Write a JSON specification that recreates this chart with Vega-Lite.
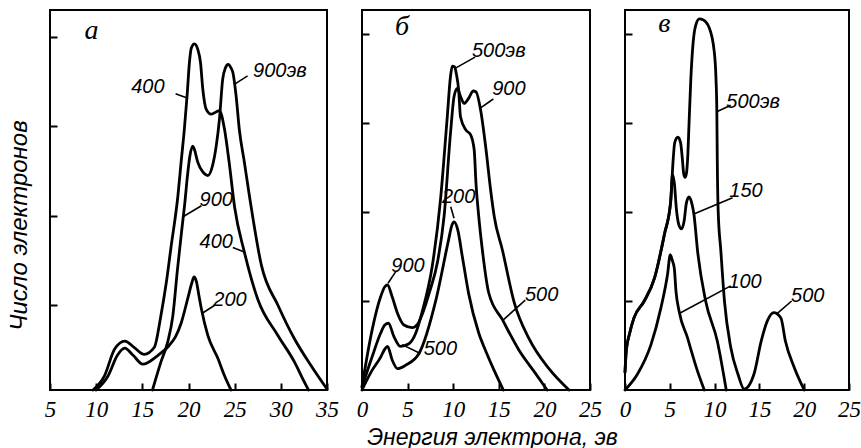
{
  "$schema": "https://vega.github.io/schema/vega-lite/v6.json",
  "background": "white",
  "padding": {"left": 6, "top": 9, "right": 4, "bottom": 4},
  "bounds": "flush",
  "spacing": 35,
  "config": {
    "view": {"stroke": "black", "strokeWidth": 2},
    "axis": {
      "domain": false, "grid": false, "ticks": true,
      "tickColor": "black", "tickWidth": 2, "tickSize": -7,
      "labelColor": "black", "labelFont": "Liberation Sans Narrow", "labelFontStyle": "italic",
      "labelFontSize": 23, "labelPadding": 15, "labelFlush": false, "labelOverlap": false,
      "titleColor": "black", "titleFont": "Liberation Sans", "titleFontStyle": "italic", "titleFontWeight": "normal"
    }
  },
  "datasets": {
    "curves": [
      {"panel":"а","energy":"400","x":9.65,"y":0},{"panel":"а","energy":"400","x":10.9,"y":0.16},{"panel":"а","energy":"400","x":12.0,"y":0.46},{"panel":"а","energy":"400","x":13.1,"y":0.55},{"panel":"а","energy":"400","x":14.1,"y":0.48},{"panel":"а","energy":"400","x":15.2,"y":0.40},{"panel":"а","energy":"400","x":16.3,"y":0.48},{"panel":"а","energy":"400","x":17.0,"y":0.83},{"panel":"а","energy":"400","x":17.6,"y":1.21},{"panel":"а","energy":"400","x":18.1,"y":1.6},{"panel":"а","energy":"400","x":18.85,"y":2.18},{"panel":"а","energy":"400","x":19.2,"y":2.56},{"panel":"а","energy":"400","x":19.55,"y":2.93},{"panel":"а","energy":"400","x":19.85,"y":3.31},{"panel":"а","energy":"400","x":20.1,"y":3.68},{"panel":"а","energy":"400","x":20.3,"y":3.84},{"panel":"а","energy":"400","x":20.64,"y":3.89},{"panel":"а","energy":"400","x":21.0,"y":3.83},{"panel":"а","energy":"400","x":21.3,"y":3.68},{"panel":"а","energy":"400","x":21.55,"y":3.38},{"panel":"а","energy":"400","x":21.9,"y":3.16},{"panel":"а","energy":"400","x":22.45,"y":3.10},{"panel":"а","energy":"400","x":23.35,"y":3.14},{"panel":"а","energy":"400","x":23.9,"y":2.93},{"panel":"а","energy":"400","x":24.4,"y":2.56},{"panel":"а","energy":"400","x":25.0,"y":2.05},{"panel":"а","energy":"400","x":26.05,"y":1.55},{"panel":"а","energy":"400","x":27.5,"y":1.02},{"panel":"а","energy":"400","x":29.7,"y":0.61},{"panel":"а","energy":"400","x":31.5,"y":0.31},{"panel":"а","energy":"400","x":32.4,"y":0.12},{"panel":"а","energy":"400","x":33.0,"y":0},
      {"panel":"а","energy":"900","x":16.1,"y":0},{"panel":"а","energy":"900","x":17.0,"y":0.31},{"panel":"а","energy":"900","x":17.75,"y":0.54},{"panel":"а","energy":"900","x":18.3,"y":0.83},{"panel":"а","energy":"900","x":18.8,"y":1.35},{"panel":"а","energy":"900","x":19.25,"y":1.78},{"panel":"а","energy":"900","x":19.6,"y":2.1},{"panel":"а","energy":"900","x":19.9,"y":2.42},{"panel":"а","energy":"900","x":20.15,"y":2.63},{"panel":"а","energy":"900","x":20.45,"y":2.74},{"panel":"а","energy":"900","x":20.65,"y":2.70},{"panel":"а","energy":"900","x":21.0,"y":2.56},{"panel":"а","energy":"900","x":21.55,"y":2.45},{"panel":"а","energy":"900","x":22.1,"y":2.41},{"panel":"а","energy":"900","x":22.6,"y":2.52},{"panel":"а","energy":"900","x":23.0,"y":2.74},{"panel":"а","energy":"900","x":23.35,"y":3.04},{"panel":"а","energy":"900","x":23.7,"y":3.49},{"panel":"а","energy":"900","x":24.0,"y":3.62},{"panel":"а","energy":"900","x":24.3,"y":3.66},{"panel":"а","energy":"900","x":24.6,"y":3.62},{"panel":"а","energy":"900","x":24.8,"y":3.57},{"panel":"а","energy":"900","x":25.15,"y":3.31},{"panel":"а","energy":"900","x":25.5,"y":2.93},{"panel":"а","energy":"900","x":26.05,"y":2.56},{"panel":"а","energy":"900","x":26.6,"y":2.18},{"panel":"а","energy":"900","x":27.9,"y":1.40},{"panel":"а","energy":"900","x":29.7,"y":0.95},{"panel":"а","energy":"900","x":31.5,"y":0.57},{"panel":"а","energy":"900","x":33.3,"y":0.27},{"panel":"а","energy":"900","x":35.0,"y":0.01},
      {"panel":"а","energy":"200","x":10.0,"y":0},{"panel":"а","energy":"200","x":11.3,"y":0.16},{"panel":"а","energy":"200","x":12.3,"y":0.39},{"panel":"а","energy":"200","x":13.1,"y":0.47},{"panel":"а","energy":"200","x":14.0,"y":0.39},{"panel":"а","energy":"200","x":15.05,"y":0.29},{"panel":"а","energy":"200","x":16.7,"y":0.39},{"panel":"а","energy":"200","x":17.9,"y":0.50},{"panel":"а","energy":"200","x":18.6,"y":0.6},{"panel":"а","energy":"200","x":19.2,"y":0.75},{"panel":"а","energy":"200","x":19.9,"y":1.02},{"panel":"а","energy":"200","x":20.35,"y":1.2},{"panel":"а","energy":"200","x":20.6,"y":1.27},{"panel":"а","energy":"200","x":20.85,"y":1.22},{"panel":"а","energy":"200","x":21.1,"y":1.08},{"panel":"а","energy":"200","x":21.4,"y":0.91},{"panel":"а","energy":"200","x":22.1,"y":0.61},{"panel":"а","energy":"200","x":23.2,"y":0.35},{"panel":"а","energy":"200","x":23.9,"y":0.16},{"panel":"а","energy":"200","x":24.6,"y":0},

      {"panel":"б","energy":"500","x":0,"y":0.03},{"panel":"б","energy":"500","x":1.1,"y":0.37},{"panel":"б","energy":"500","x":2.05,"y":0.64},{"panel":"б","energy":"500","x":2.5,"y":0.73},{"panel":"б","energy":"500","x":2.9,"y":0.75},{"panel":"б","energy":"500","x":3.5,"y":0.6},{"panel":"б","energy":"500","x":4.2,"y":0.49},{"panel":"б","energy":"500","x":5.15,"y":0.52},{"panel":"б","energy":"500","x":5.9,"y":0.64},{"panel":"б","energy":"500","x":6.6,"y":0.88},{"panel":"б","energy":"500","x":7.7,"y":1.39},{"panel":"б","energy":"500","x":8.6,"y":2.13},{"panel":"б","energy":"500","x":9.35,"y":3.07},{"panel":"б","energy":"500","x":9.7,"y":3.52},{"panel":"б","energy":"500","x":9.9,"y":3.64},{"panel":"б","energy":"500","x":10.15,"y":3.63},{"panel":"б","energy":"500","x":10.35,"y":3.55},{"panel":"б","energy":"500","x":10.6,"y":3.37},{"panel":"б","energy":"500","x":10.8,"y":3.07},{"panel":"б","energy":"500","x":11.4,"y":2.92},{"panel":"б","energy":"500","x":11.9,"y":2.87},{"panel":"б","energy":"500","x":12.3,"y":2.70},{"panel":"б","energy":"500","x":12.5,"y":2.32},{"panel":"б","energy":"500","x":12.8,"y":1.95},{"panel":"б","energy":"500","x":13.2,"y":1.57},{"panel":"б","energy":"500","x":13.9,"y":1.09},{"panel":"б","energy":"500","x":15.4,"y":0.79},{"panel":"б","energy":"500","x":17.2,"y":0.45},{"panel":"б","energy":"500","x":19.0,"y":0.19},{"panel":"б","energy":"500","x":20.3,"y":0},
      {"panel":"б","energy":"900","x":0,"y":0.04},{"panel":"б","energy":"900","x":1.1,"y":0.67},{"panel":"б","energy":"900","x":2.05,"y":1.05},{"panel":"б","energy":"900","x":2.5,"y":1.16},{"panel":"б","energy":"900","x":2.8,"y":1.18},{"panel":"б","energy":"900","x":3.3,"y":1.05},{"panel":"б","energy":"900","x":3.9,"y":0.86},{"panel":"б","energy":"900","x":4.6,"y":0.73},{"panel":"б","energy":"900","x":5.5,"y":0.70},{"panel":"б","energy":"900","x":6.1,"y":0.74},{"panel":"б","energy":"900","x":6.6,"y":0.85},{"panel":"б","energy":"900","x":7.4,"y":1.1},{"panel":"б","energy":"900","x":8.3,"y":1.45},{"panel":"б","energy":"900","x":9.0,"y":1.95},{"panel":"б","energy":"900","x":9.7,"y":2.88},{"panel":"б","energy":"900","x":10.1,"y":3.3},{"panel":"б","energy":"900","x":10.45,"y":3.39},{"panel":"б","energy":"900","x":10.8,"y":3.3},{"panel":"б","energy":"900","x":11.2,"y":3.22},{"panel":"б","energy":"900","x":11.7,"y":3.28},{"panel":"б","energy":"900","x":12.2,"y":3.36},{"panel":"б","energy":"900","x":12.5,"y":3.35},{"panel":"б","energy":"900","x":13.0,"y":3.15},{"panel":"б","energy":"900","x":13.6,"y":2.7},{"panel":"б","energy":"900","x":14.1,"y":2.25},{"panel":"б","energy":"900","x":14.5,"y":1.95},{"panel":"б","energy":"900","x":15.4,"y":1.57},{"panel":"б","energy":"900","x":16.7,"y":0.98},{"panel":"б","energy":"900","x":18.3,"y":0.58},{"panel":"б","energy":"900","x":20.5,"y":0.24},{"panel":"б","energy":"900","x":22.7,"y":0},
      {"panel":"б","energy":"200","x":0,"y":0},{"panel":"б","energy":"200","x":1.1,"y":0.22},{"panel":"б","energy":"200","x":2.05,"y":0.37},{"panel":"б","energy":"200","x":2.5,"y":0.46},{"panel":"б","energy":"200","x":2.8,"y":0.49},{"panel":"б","energy":"200","x":3.3,"y":0.34},{"panel":"б","energy":"200","x":3.9,"y":0.24},{"panel":"б","energy":"200","x":4.8,"y":0.28},{"panel":"б","energy":"200","x":6.25,"y":0.41},{"panel":"б","energy":"200","x":8.1,"y":1.01},{"panel":"б","energy":"200","x":9.5,"y":1.69},{"panel":"б","energy":"200","x":9.85,"y":1.85},{"panel":"б","energy":"200","x":10.1,"y":1.89},{"panel":"б","energy":"200","x":10.5,"y":1.8},{"panel":"б","energy":"200","x":11.0,"y":1.5},{"panel":"б","energy":"200","x":11.7,"y":1.08},{"panel":"б","energy":"200","x":12.8,"y":0.64},{"panel":"б","energy":"200","x":13.6,"y":0.43},{"panel":"б","energy":"200","x":14.4,"y":0.24},{"panel":"б","energy":"200","x":15.5,"y":0},

      {"panel":"в","energy":"500","x":0,"y":0.2},{"panel":"в","energy":"500","x":0.15,"y":0.45},{"panel":"в","energy":"500","x":0.5,"y":0.63},{"panel":"в","energy":"500","x":1.0,"y":0.81},{"panel":"в","energy":"500","x":2.15,"y":1.0},{"panel":"в","energy":"500","x":3.3,"y":1.26},{"panel":"в","energy":"500","x":4.4,"y":1.75},{"panel":"в","energy":"500","x":5.1,"y":2.12},{"panel":"в","energy":"500","x":5.35,"y":2.55},{"panel":"в","energy":"500","x":5.55,"y":2.78},{"panel":"в","energy":"500","x":5.9,"y":2.84},{"panel":"в","energy":"500","x":6.2,"y":2.78},{"panel":"в","energy":"500","x":6.4,"y":2.6},{"panel":"в","energy":"500","x":6.55,"y":2.43},{"panel":"в","energy":"500","x":6.7,"y":2.39},{"panel":"в","energy":"500","x":6.85,"y":2.43},{"panel":"в","energy":"500","x":7.0,"y":2.62},{"panel":"в","energy":"500","x":7.15,"y":3.0},{"panel":"в","energy":"500","x":7.35,"y":3.5},{"panel":"в","energy":"500","x":7.6,"y":3.9},{"panel":"в","energy":"500","x":7.9,"y":4.1},{"panel":"в","energy":"500","x":8.3,"y":4.17},{"panel":"в","energy":"500","x":8.7,"y":4.16},{"panel":"в","energy":"500","x":9.4,"y":4.07},{"panel":"в","energy":"500","x":9.95,"y":3.81},{"panel":"в","energy":"500","x":10.15,"y":3.51},{"panel":"в","energy":"500","x":10.25,"y":3.13},{"panel":"в","energy":"500","x":10.3,"y":2.57},{"panel":"в","energy":"500","x":10.4,"y":2.01},{"panel":"в","energy":"500","x":10.7,"y":1.56},{"panel":"в","energy":"500","x":11.1,"y":1.0},{"panel":"в","energy":"500","x":11.8,"y":0.48},{"panel":"в","energy":"500","x":12.6,"y":0.18},{"panel":"в","energy":"500","x":13.3,"y":0.01},{"panel":"в","energy":"500","x":14.4,"y":0.18},{"panel":"в","energy":"500","x":15.2,"y":0.55},{"panel":"в","energy":"500","x":15.9,"y":0.78},{"panel":"в","energy":"500","x":16.6,"y":0.87},{"panel":"в","energy":"500","x":17.4,"y":0.81},{"panel":"в","energy":"500","x":17.9,"y":0.55},{"panel":"в","energy":"500","x":18.9,"y":0.25},{"panel":"в","energy":"500","x":20.0,"y":0},
      {"panel":"в","energy":"150","x":0,"y":0.2},{"panel":"в","energy":"150","x":0.15,"y":0.45},{"panel":"в","energy":"150","x":0.5,"y":0.63},{"panel":"в","energy":"150","x":1.0,"y":0.81},{"panel":"в","energy":"150","x":2.15,"y":1.0},{"panel":"в","energy":"150","x":3.3,"y":1.26},{"panel":"в","energy":"150","x":4.4,"y":1.75},{"panel":"в","energy":"150","x":5.1,"y":2.12},{"panel":"в","energy":"150","x":5.3,"y":2.42},{"panel":"в","energy":"150","x":5.5,"y":2.33},{"panel":"в","energy":"150","x":5.75,"y":2.02},{"panel":"в","energy":"150","x":6.0,"y":1.86},{"panel":"в","energy":"150","x":6.3,"y":1.81},{"panel":"в","energy":"150","x":6.6,"y":1.9},{"panel":"в","energy":"150","x":6.85,"y":2.1},{"panel":"в","energy":"150","x":7.15,"y":2.17},{"panel":"в","energy":"150","x":7.45,"y":2.1},{"panel":"в","energy":"150","x":7.7,"y":1.97},{"panel":"в","energy":"150","x":8.1,"y":1.56},{"panel":"в","energy":"150","x":9.0,"y":1.0},{"panel":"в","energy":"150","x":10.3,"y":0.55},{"panel":"в","energy":"150","x":11.3,"y":0},
      {"panel":"в","energy":"100","x":0,"y":0},{"panel":"в","energy":"100","x":1.4,"y":0.18},{"panel":"в","energy":"100","x":2.9,"y":0.51},{"panel":"в","energy":"100","x":4.0,"y":0.92},{"panel":"в","energy":"100","x":4.75,"y":1.3},{"panel":"в","energy":"100","x":5.05,"y":1.52},{"panel":"в","energy":"100","x":5.3,"y":1.45},{"panel":"в","energy":"100","x":5.5,"y":1.37},{"panel":"в","energy":"100","x":5.7,"y":1.1},{"panel":"в","energy":"100","x":6.05,"y":0.88},{"panel":"в","energy":"100","x":7.0,"y":0.58},{"panel":"в","energy":"100","x":7.4,"y":0.44},{"panel":"в","energy":"100","x":8.0,"y":0.24},{"panel":"в","energy":"100","x":8.85,"y":0}
    ],
    "leaders": [
      {"panel":"а","x":18.6,"y":3.33,"x2":19.85,"y2":3.28},
      {"panel":"а","x":26.4,"y":3.53,"x2":25.05,"y2":3.44},
      {"panel":"а","x":21.4,"y":2.07,"x2":19.45,"y2":1.95},
      {"panel":"а","x":24.8,"y":1.60,"x2":26.05,"y2":1.55},
      {"panel":"а","x":22.8,"y":0.95,"x2":21.45,"y2":0.86},
      {"panel":"б","x":12.4,"y":3.74,"x2":10.3,"y2":3.62},
      {"panel":"б","x":14.4,"y":3.27,"x2":13.0,"y2":3.17},
      {"panel":"б","x":9.73,"y":2.06,"x2":10.09,"y2":1.93},
      {"panel":"б","x":3.7,"y":1.33,"x2":2.85,"y2":1.2},
      {"panel":"б","x":6.4,"y":0.41,"x2":4.4,"y2":0.51},
      {"panel":"б","x":17.9,"y":1.01,"x2":15.4,"y2":0.78},
      {"panel":"в","x":11.8,"y":3.2,"x2":10.3,"y2":3.13},
      {"panel":"в","x":12.0,"y":2.16,"x2":7.75,"y2":1.98},
      {"panel":"в","x":11.8,"y":1.17,"x2":6.05,"y2":0.86},
      {"panel":"в","x":18.6,"y":1.0,"x2":17.0,"y2":0.86}
    ],
    "labels": [
      {"panel":"а","x":15.6,"y":3.41,"text":"400"},
      {"panel":"а","x":29.9,"y":3.58,"text":"900эв"},
      {"panel":"а","x":23.0,"y":2.14,"text":"900"},
      {"panel":"а","x":23.0,"y":1.66,"text":"400"},
      {"panel":"а","x":24.5,"y":1.01,"text":"200"},
      {"panel":"б","x":15.0,"y":3.81,"text":"500эв"},
      {"panel":"б","x":16.1,"y":3.38,"text":"900"},
      {"panel":"б","x":10.6,"y":2.17,"text":"200"},
      {"panel":"б","x":5.05,"y":1.39,"text":"900"},
      {"panel":"б","x":8.6,"y":0.46,"text":"500"},
      {"panel":"б","x":19.7,"y":1.07,"text":"500"},
      {"panel":"в","x":14.3,"y":3.24,"text":"500эв"},
      {"panel":"в","x":13.5,"y":2.24,"text":"150"},
      {"panel":"в","x":13.4,"y":1.21,"text":"100"},
      {"panel":"в","x":20.4,"y":1.06,"text":"500"}
    ],
    "letters": [
      {"panel":"а","x":9.5,"y":4.03},
      {"panel":"б","x":4.4,"y":4.08},
      {"panel":"в","x":4.4,"y":4.11}
    ]
  },
  "hconcat": [
    {
      "width": 277, "height": 380,
      "encoding": {
        "x": {"field": "x", "type": "quantitative", "scale": {"domain": [5, 35], "nice": false, "zero": false},
              "axis": {"values": [5, 10, 15, 20, 25, 30, 35], "title": null}},
        "y": {"field": "y", "type": "quantitative", "scale": {"domain": [0, 4.27], "nice": false},
              "axis": {"values": [0.96, 1.96, 2.97, 3.97], "labels": false, "title": "Число электронов",
                       "titleX": -31, "titleY": 215, "titleAngle": -90, "titleAlign": "center", "titleBaseline": "middle", "titleFontSize": 24}}
      },
      "layer": [
        {"data": {"name": "curves"}, "transform": [{"filter": "datum.panel === 'а'"}],
         "mark": {"type": "line", "interpolate": "monotone", "color": "black", "strokeWidth": 2.8, "strokeJoin": "round", "strokeCap": "round"},
         "encoding": {"detail": {"field": "energy"}}},
        {"data": {"name": "leaders"}, "transform": [{"filter": "datum.panel === 'а'"}],
         "mark": {"type": "rule", "color": "black", "strokeWidth": 1.6},
         "encoding": {"x2": {"field": "x2"}, "y2": {"field": "y2"}}},
        {"data": {"name": "labels"}, "transform": [{"filter": "datum.panel === 'а'"}],
         "mark": {"type": "text", "font": "Liberation Sans", "fontStyle": "italic", "fontSize": 20, "color": "black", "align": "center", "baseline": "middle"},
         "encoding": {"text": {"field": "text"}}},
        {"data": {"name": "letters"}, "transform": [{"filter": "datum.panel === 'а'"}],
         "mark": {"type": "text", "font": "Liberation Serif", "fontStyle": "italic", "fontSize": 28, "color": "black", "align": "center", "baseline": "middle"},
         "encoding": {"text": {"field": "panel"}}}
      ]
    },
    {
      "width": 228, "height": 380,
      "encoding": {
        "x": {"field": "x", "type": "quantitative", "scale": {"domain": [0, 25], "nice": false, "zero": false},
              "axis": {"values": [0, 5, 10, 15, 20, 25], "title": "Энергия электрона, эв",
                       "titleX": 130, "titleY": 47, "titleAlign": "center", "titleBaseline": "middle", "titleFontSize": 23}},
        "y": {"field": "y", "type": "quantitative", "scale": {"domain": [0, 4.27], "nice": false},
              "axis": {"values": [1, 2, 3, 4], "labels": false, "title": null}}
      },
      "layer": [
        {"data": {"name": "curves"}, "transform": [{"filter": "datum.panel === 'б'"}],
         "mark": {"type": "line", "interpolate": "monotone", "color": "black", "strokeWidth": 2.8, "strokeJoin": "round", "strokeCap": "round"},
         "encoding": {"detail": {"field": "energy"}}},
        {"data": {"name": "leaders"}, "transform": [{"filter": "datum.panel === 'б'"}],
         "mark": {"type": "rule", "color": "black", "strokeWidth": 1.6},
         "encoding": {"x2": {"field": "x2"}, "y2": {"field": "y2"}}},
        {"data": {"name": "labels"}, "transform": [{"filter": "datum.panel === 'б'"}],
         "mark": {"type": "text", "font": "Liberation Sans", "fontStyle": "italic", "fontSize": 20, "color": "black", "align": "center", "baseline": "middle"},
         "encoding": {"text": {"field": "text"}}},
        {"data": {"name": "letters"}, "transform": [{"filter": "datum.panel === 'б'"}],
         "mark": {"type": "text", "font": "Liberation Serif", "fontStyle": "italic", "fontSize": 28, "color": "black", "align": "center", "baseline": "middle"},
         "encoding": {"text": {"field": "panel"}}}
      ]
    },
    {
      "width": 224, "height": 380,
      "encoding": {
        "x": {"field": "x", "type": "quantitative", "scale": {"domain": [0, 25], "nice": false, "zero": false},
              "axis": {"values": [0, 5, 10, 15, 20, 25], "title": null}},
        "y": {"field": "y", "type": "quantitative", "scale": {"domain": [0, 4.27], "nice": false},
              "axis": {"values": [1, 2, 3, 4], "labels": false, "title": null}}
      },
      "layer": [
        {"data": {"name": "curves"}, "transform": [{"filter": "datum.panel === 'в'"}],
         "mark": {"type": "line", "interpolate": "monotone", "color": "black", "strokeWidth": 2.8, "strokeJoin": "round", "strokeCap": "round"},
         "encoding": {"detail": {"field": "energy"}}},
        {"data": {"name": "leaders"}, "transform": [{"filter": "datum.panel === 'в'"}],
         "mark": {"type": "rule", "color": "black", "strokeWidth": 1.6},
         "encoding": {"x2": {"field": "x2"}, "y2": {"field": "y2"}}},
        {"data": {"name": "labels"}, "transform": [{"filter": "datum.panel === 'в'"}],
         "mark": {"type": "text", "font": "Liberation Sans", "fontStyle": "italic", "fontSize": 20, "color": "black", "align": "center", "baseline": "middle"},
         "encoding": {"text": {"field": "text"}}},
        {"data": {"name": "letters"}, "transform": [{"filter": "datum.panel === 'в'"}],
         "mark": {"type": "text", "font": "Liberation Serif", "fontStyle": "italic", "fontSize": 28, "color": "black", "align": "center", "baseline": "middle"},
         "encoding": {"text": {"field": "panel"}}}
      ]
    }
  ]
}
